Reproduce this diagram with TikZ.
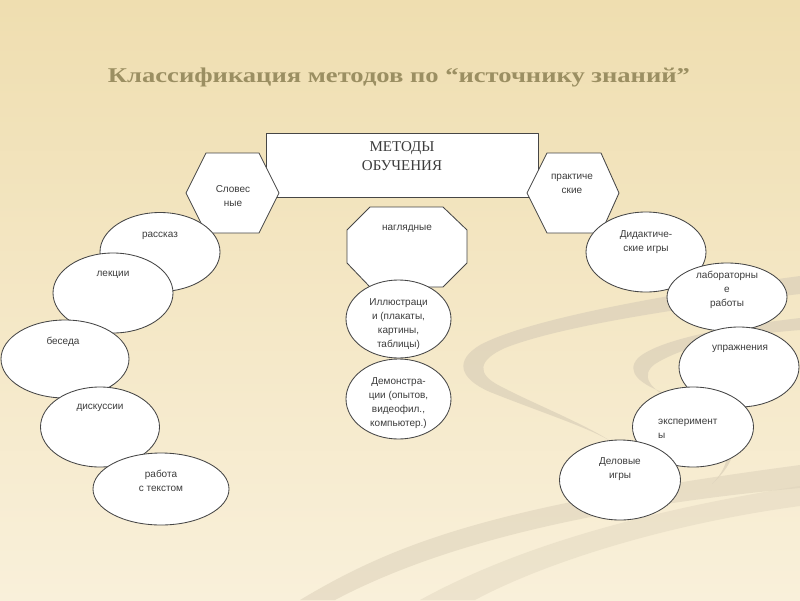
\documentclass[tikz,border=0pt]{standalone}
\usepackage{fontspec}
\usepackage{graphicx}
\setmainfont{Liberation Serif}
\setsansfont{Liberation Sans}
\usetikzlibrary{shapes.geometric}
\definecolor{bgtop}{RGB}{239,222,176}
\definecolor{bgbot}{RGB}{249,240,218}
\definecolor{swoosh}{RGB}{220,209,186}
\definecolor{titlecol}{RGB}{155,143,98}
\definecolor{ink}{RGB}{60,60,60}
\definecolor{edge}{RGB}{70,70,70}
\begin{document}
\begin{tikzpicture}[x=1pt,y=-1pt,
  shapebox/.style={draw=edge, line width=0.85pt, fill=white, line join=round},
  oval/.style={ellipse, draw=edge, line width=0.85pt, fill=white, inner sep=0pt},
  lbl/.style={font=\sffamily\fontsize{10}{14}\selectfont, text=ink, align=center, inner sep=0pt},
  serlbl/.style={font=\rmfamily\fontsize{15}{19}\selectfont, text=ink, align=center, inner sep=0pt}
]
\useasboundingbox (0,0) rectangle (800,600);
\shade[top color=bgtop, bottom color=bgbot] (0,0) rectangle (800,600);

% decorative swooshes
\fill[swoosh, opacity=0.75] (800,276) .. controls (680,292) and (530,318) .. (480,345)
  .. controls (455,360) and (458,378) .. (490,392)
  .. controls (540,412) and (590,428) .. (612,442)
  .. controls (585,424) and (530,402) .. (500,386)
  .. controls (476,374) and (478,360) .. (505,348)
  .. controls (560,326) and (690,306) .. (800,294) -- cycle;
\fill[swoosh, opacity=0.75] (800,318) .. controls (740,325) and (660,338) .. (638,358)
  .. controls (625,372) and (640,385) .. (670,395)
  .. controls (720,412) and (760,440) .. (712,484)
  .. controls (745,450) and (720,420) .. (680,403)
  .. controls (648,390) and (640,375) .. (655,364)
  .. controls (690,342) and (750,334) .. (800,330) -- cycle;
\fill[swoosh, opacity=0.55] (300,600) .. controls (400,540) and (500,505) .. (800,465)
  -- (800,488) .. controls (560,510) and (420,555) .. (335,600) -- cycle;
\fill[swoosh, opacity=0.4] (420,600) .. controls (520,545) and (650,510) .. (800,486)
  -- (800,506) .. controls (660,525) and (540,565) .. (475,600) -- cycle;

% title
\node[anchor=base, text=titlecol, inner sep=0pt] (title) at (399,82)
  {\resizebox{582pt}{\height}{\fontsize{21}{25}\selectfont\bfseries Классификация методов по “источнику знаний”}};

% main box
\node[shapebox, rectangle, minimum width=272pt, minimum height=64pt, inner sep=0pt] (main) at (402,165) {};
\node[serlbl] (tmain) at (402,156) {МЕТОДЫ\\ОБУЧЕНИЯ};

% hexagons
\draw[shapebox] (186,193) -- (206,153) -- (259,153) -- (279,193) -- (259,233) -- (206,233) -- cycle;
\node[lbl] (tslov) at (233,196.5) {Словес\\ные};
\draw[shapebox] (527,193) -- (547,153) -- (601,153) -- (619,193) -- (601,233) -- (547,233) -- cycle;
\node[lbl] (tprak) at (572,184) {практиче\\ские};

% octagon
\draw[shapebox] (370,207) -- (443,207) -- (467,230) -- (467,263) -- (443,287) -- (370,287) -- (347,263) -- (347,230) -- cycle;
\node[lbl] (tnagl) at (407,229) {наглядные};

% centre ellipses
\node[oval, minimum width=105pt, minimum height=78pt] (illu) at (398.5,319) {};
\node[lbl] (tillu) at (398.5,324) {Иллюстраци\\и (плакаты,\\картины,\\таблицы)};
\node[oval, minimum width=105pt, minimum height=80pt] (demo) at (398.5,399) {};
\node[lbl] (tdemo) at (398.5,403) {Демонстра-\\ции (опытов,\\видеофил.,\\компьютер.)};

% left ellipses
\node[oval, minimum width=120pt, minimum height=79pt] (rasskaz) at (160,252) {};
\node[lbl] (trasskaz) at (160,236) {рассказ};
\node[oval, minimum width=120pt, minimum height=80pt] (lekcii) at (113,293) {};
\node[lbl] (tlekcii) at (113,275) {лекции};
\node[oval, minimum width=128pt, minimum height=78pt] (beseda) at (65,359) {};
\node[lbl] (tbeseda) at (63,342) {беседа};
\node[oval, minimum width=119pt, minimum height=80pt] (disk) at (100,427) {};
\node[lbl] (tdisk) at (100,408) {дискуссии};
\node[oval, minimum width=136pt, minimum height=72pt] (rabota) at (161,489) {};
\node[lbl] (trabota) at (161,481) {работа\\с текстом};

% right ellipses
\node[oval, minimum width=120pt, minimum height=80pt] (didakt) at (646,252) {};
\node[lbl] (tdidakt) at (646,242) {Дидактиче-\\ские игры};
\node[oval, minimum width=120pt, minimum height=68pt] (labor) at (727,297) {};
\node[lbl] (tlabor) at (727,290) {лабораторны\\е\\работы};
\node[oval, minimum width=120pt, minimum height=80pt] (upr) at (739,367) {};
\node[lbl] (tupr) at (740,349) {упражнения};
\node[oval, minimum width=121pt, minimum height=80pt] (exper) at (693,427) {};
\node[lbl, align=left, anchor=west] (texper) at (658,429) {эксперимент\\ы};
\node[oval, minimum width=121pt, minimum height=80pt] (delov) at (620,480) {};
\node[lbl] (tdelov) at (620,469.5) {Деловые\\игры};
\end{tikzpicture}
\end{document}
